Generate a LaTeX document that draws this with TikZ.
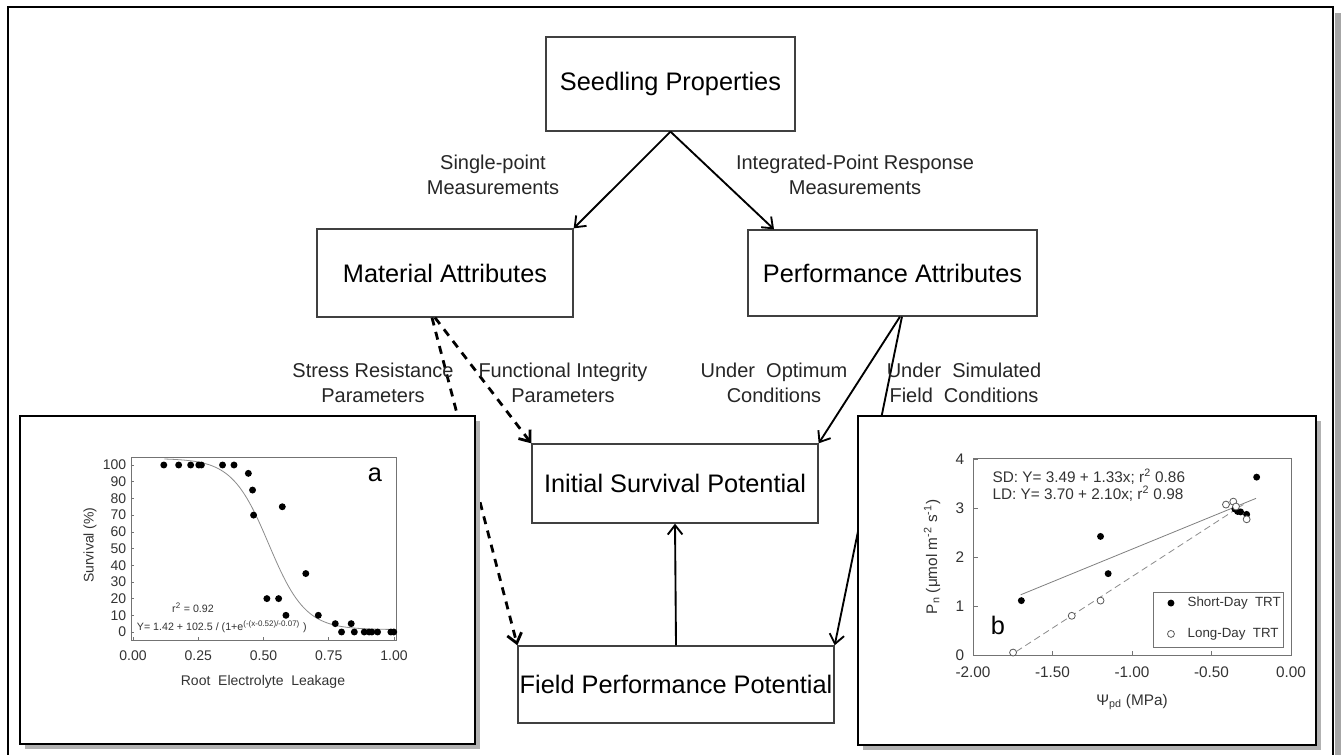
\documentclass[tikz,border=0pt]{standalone}
\usepackage{fontspec}
\setmainfont{Liberation Sans}
\usetikzlibrary{arrows.meta,positioning,calc}

\begin{document}
\begin{tikzpicture}[x=0.75pt,y=0.75pt,yscale=-1,xscale=1,
	box/.style={draw=black!75, line width=1pt, inner sep=0pt, align=center, font=\fontsize{19}{23}\selectfont},
	lbl/.style={align=center, text=black!85, font=\fontsize{15}{19}\selectfont},
	flow/.style={line width=1.4pt, -{Straight Barb[length=7pt,width=11pt]}},
	dflow/.style={line width=2.1pt, dash pattern=on 6pt off 5pt, -{Straight Barb[length=7pt,width=11pt]}},
	panel/.style={draw=black, line width=1.5pt, fill=white},
	tick/.style={inner sep=1pt, text=black!80, font=\fontsize{10.5}{12}\selectfont},
	btick/.style={inner sep=1pt, text=black!80, font=\fontsize{11.5}{13}\selectfont},
	dot/.style={circle, fill=black, inner sep=0pt, minimum size=5.2pt},
	odot/.style={circle, draw=black!65, fill=white, line width=0.6pt, inner sep=0pt, minimum size=5.2pt}]
	\useasboundingbox (0,0) rectangle (1341,755);
	% outer frame
	\fill[black!35] (1335,13) rectangle (1341,755);
	\draw[line width=1.9pt] (8,755) -- (8,7) -- (1333,7) -- (1333,755);

	% boxes
	\node[box, minimum width=186.75pt, minimum height=70.5pt] (seed) at (670.5,84) {Seedling Properties};
	\node[box, minimum width=192pt, minimum height=66pt] (mat) at (445,273) {Material Attributes};
	\node[box, minimum width=216.75pt, minimum height=64.5pt] (perf) at (892.5,273) {Performance Attributes};
	\node[box, minimum width=214.5pt, minimum height=59.25pt] (isp) at (675,483.5) {Initial Survival Potential};
	\node[box, minimum width=237pt, minimum height=57.75pt] (fpp) at (676,684.5) {Field Performance Potential};

	% connectors
	\draw[flow] (seed.south) -- (mat.north east);
	\draw[flow] (seed.south) -- ([xshift=20pt]perf.north west);
	\draw[dflow] ([xshift=-7.5pt]mat.south) -- (isp.north west);
	\draw[dflow] ([xshift=-9.75pt]mat.south) -- (fpp.north west);
	\draw[flow] ([xshift=5.6pt]perf.south) -- (isp.north east);
	\draw[flow] ([xshift=7.1pt]perf.south) -- (fpp.north east);
	\draw[flow] (fpp.north) -- (isp.south);

	% labels
	\node[lbl] (lsingle) at (493,175) {Single-point\\Measurements};
	\node[lbl] (linteg) at (855,175) {Integrated-Point Response\\Measurements};
	\node[lbl] (lstress) at (373,383) {Stress Resistance\\Parameters};
	\node[lbl] (lfunc) at (563,383) {Functional Integrity\\Parameters};
	\node[lbl] (lopt) at (774,383) {Under~~Optimum\\Conditions};
	\node[lbl] (lsim) at (964,383) {Under~~Simulated\\Field~~Conditions};

	% panel a
	\fill[black!30] (25,421) rectangle (480,749);
	\draw[panel] (20,416) rectangle (475,744);
	\begin{scope}[shift={(133,632)}, yscale=-1, x=195.75pt, y=1.2525pt]
		\draw[black!55, line width=0.6pt] (-0.008,-4.8) rectangle (1.011,104.8);
		\foreach \v in {0,10,...,100} {
			\draw[black!55] (-0.008,\v) -- ++(0.012,0);
			\node[tick, anchor=east] (ya\v) at (-0.02,\v) {\v};
		}
		\foreach \v/\t [count=\i] in {0/0.00,0.25/0.25,0.5/0.50,0.75/0.75,1/1.00} {
			\draw[black!55] (\v,-4.8) -- ++(0,2);
			\node[tick] (xa\i) at (\v,-14) {\t};
		}
		\draw[black!45, line width=0.6pt, domain=0.12:1.0, samples=90] plot (\x, {1.42+102.5/(1+exp((\x-0.52)/0.07))});
		\foreach \px/\py in {0.118/100,0.175/100,0.221/100,0.252/100,0.262/100,0.343/100,0.387/100,
			0.442/95,0.458/85,0.462/70,0.513/20,0.558/20,0.572/75,0.586/10,0.662/35,0.710/10,
			0.775/5,0.799/0,0.836/5,0.848/0,0.886/0,0.905/0,0.915/0,0.937/0,0.988/0,0.999/0}
			\node[dot] at (\px,\py) {};
		\node[font=\fontsize{19}{22}\selectfont] (alet) at (0.927,94) {a};
		\node[text=black!80, font=\fontsize{8}{9}\selectfont] (ar2) at (0.23,14.4) {r\textsuperscript{2} = 0.92};
		\node[text=black!80, font=\fontsize{8}{9}\selectfont] (aeq) at (0.34,3) {Y= 1.42 + 102.5 / (1+e\textsuperscript{(-(x-0.52)/-0.07)} )};
		\node[tick] (axl) at (0.498,-30) {Root~~Electrolyte~~Leakage};
		\node[tick, rotate=90] (ayl) at (-0.165,52) {Survival (\%)};
	\end{scope}

	% panel b
	\fill[black!30] (863,421) rectangle (1321,750);
	\draw[panel] (858,416) rectangle (1316,745);
	\begin{scope}[shift={(1291,655)}, yscale=-1, x=119.25pt, y=36.75pt]
		\draw[black!55, line width=0.6pt] (-2,0) rectangle (0.005,4.02);
		\foreach \v in {0,1,2,3,4} {
			\draw[black!55] (-2,\v) -- ++(0.03,0);
			\node[btick, anchor=east] (yb\v) at (-2.045,\v) {\v};
		}
		\foreach \v/\t [count=\i] in {-2/-2.00,-1.5/-1.50,-1/-1.00,-0.5/-0.50,0/0.00} {
			\draw[black!55] (\v,0) -- ++(0,0.08);
			\node[btick] (xb\i) at (\v,-0.35) {\t};
		}
		\draw[black!50, line width=0.6pt] (-1.7,1.229) -- (-0.22,3.197);
		\draw[black!45, line width=0.6pt, dash pattern=on 5pt off 3pt] (-1.727,0.073) -- (-0.3,3.07);
		\foreach \px/\py in {-1.696/1.11,-1.198/2.42,-1.150/1.66,-0.353/2.98,-0.336/2.93,-0.317/2.92,-0.279/2.87,-0.216/3.63}
			\node[dot] at (\px,\py) {};
		\foreach \px/\py in {-1.748/0.05,-1.379/0.80,-1.198/1.11,-0.409/3.07,-0.363/3.13,-0.346/3.03,-0.279/2.77}
			\node[odot] at (\px,\py) {};
		\node[btick, anchor=west] (bsd) at (-1.887,3.63) {SD: Y= 3.49 + 1.33x; r\textsuperscript{2} 0.86};
		\node[btick, anchor=west] (bld) at (-1.887,3.29) {LD: Y= 3.70 + 2.10x; r\textsuperscript{2} 0.98};
		\node[font=\fontsize{19}{22}\selectfont] (blet) at (-1.843,0.61) {b};
		\draw[black!55, line width=0.6pt] (-0.868,0.163) rectangle (-0.05,1.286);
		\node[dot] (lgsd) at (-0.755,1.06) {};
		\node[tick, anchor=west, font=\fontsize{10}{12}\selectfont] (lgsdt) at (-0.66,1.06) {Short-Day~~TRT};
		\node[odot] (lgld) at (-0.755,0.43) {};
		\node[tick, anchor=west, font=\fontsize{10}{12}\selectfont] (lgldt) at (-0.66,0.43) {Long-Day~~TRT};
		\node[btick] (bxl) at (-1.0,-0.96) {Ψ\textsubscript{pd} (MPa)};
		\node[btick, rotate=90] (byl) at (-2.258,2.0) {P\textsubscript{n} (μmol m\textsuperscript{-2} s\textsuperscript{-1})};
	\end{scope}
\end{tikzpicture}
\end{document}
